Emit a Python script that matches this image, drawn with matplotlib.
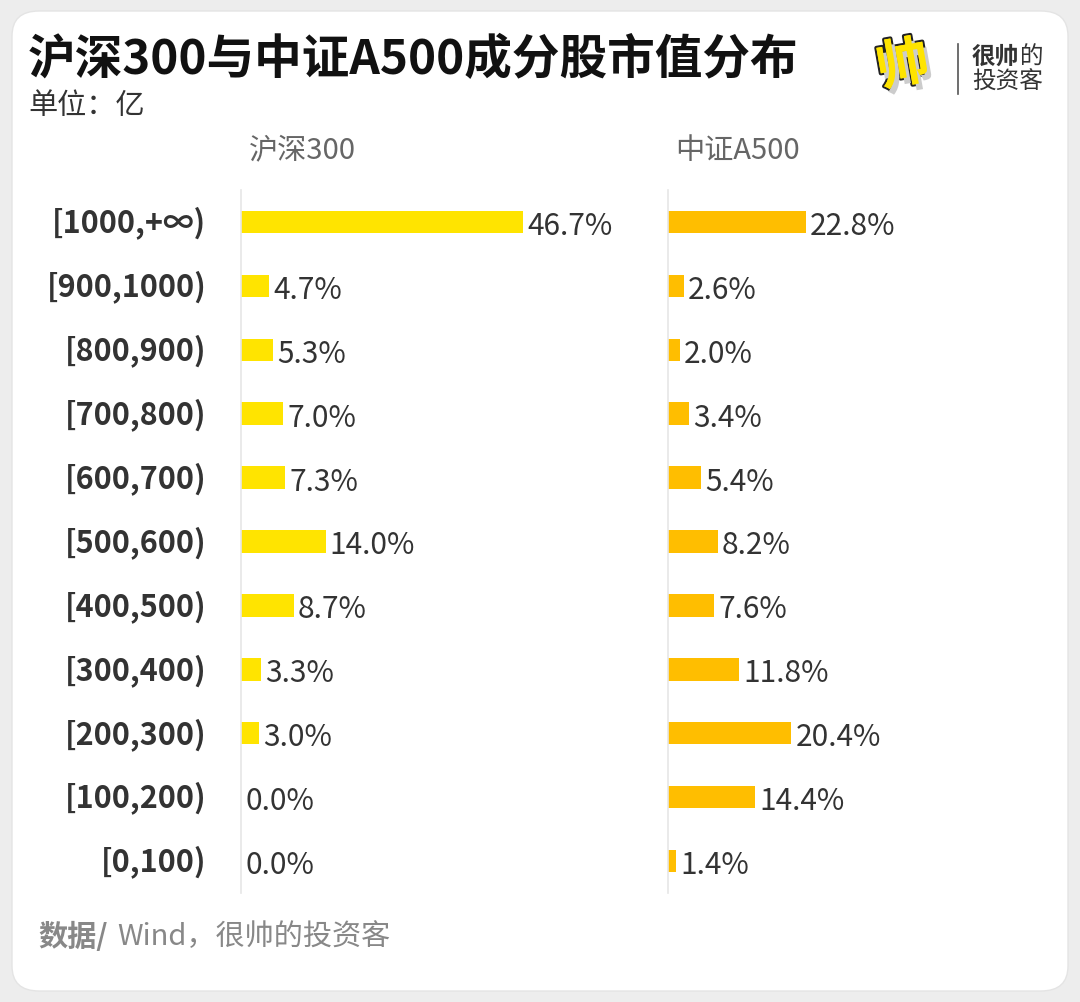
import matplotlib
matplotlib.use("Agg")
import matplotlib.pyplot as plt
from matplotlib.patches import FancyBboxPatch
import matplotlib.patheffects as pe

plt.rcParams['font.family'] = ['Noto Sans CJK SC', 'DejaVu Sans']

categories = ["[1000,+∞)", "[900,1000)", "[800,900)", "[700,800)", "[600,700)",
              "[500,600)", "[400,500)", "[300,400)", "[200,300)", "[100,200)", "[0,100)"]
hs300 = [46.7, 4.7, 5.3, 7.0, 7.3, 14.0, 8.7, 3.3, 3.0, 0.0, 0.0]
a500 = [22.8, 2.6, 2.0, 3.4, 5.4, 8.2, 7.6, 11.8, 20.4, 14.4, 1.4]
series_names = ["沪深300", "中证A500"]
colors = ["#FFE400", "#FFBE00"]

W, H = 1080, 1003
fig = plt.figure(figsize=(W / 100, H / 100), dpi=100)
fig.patch.set_facecolor("#ededed")

# card
card = FancyBboxPatch((12 / W, 11 / H), (1056) / W, (980) / H,
                      boxstyle="round,pad=0,rounding_size=0.025",
                      transform=fig.transFigure, facecolor="white",
                      edgecolor="#e4e4e4", linewidth=1.0, zorder=-5)
fig.patches.append(card)

def fx(px):
    return px / W

def fy(py):
    return 1 - py / H

# title and subtitle
fig.text(fx(28), fy(60), "沪深300与中证A500成分股市值分布", fontsize=34.3, fontweight="bold",
         color="#111111", va="center", ha="left")
fig.text(fx(28), fy(106), "单位：亿", fontsize=21, color="#333333", va="center", ha="left")

# logo
fig.text(fx(903), fy(67), "帅", fontsize=38, fontweight="bold", color="#FFE400",
         va="center", ha="center", rotation=10,
         path_effects=[pe.withStroke(linewidth=3, foreground="#222222"),
                       pe.SimplePatchShadow(offset=(3, -4), shadow_rgbFace="#cccccc", alpha=1.0),
                       pe.Normal()])
fig.add_artist(plt.Line2D([fx(958), fx(958)], [fy(45), fy(95)], color="#555555", lw=1.2))
fig.text(fx(972), fy(57), "很帅", fontsize=17, fontweight="bold", color="#333333",
         va="center", ha="left")
fig.text(fx(1020), fy(57), "的", fontsize=17, color="#333333", va="center", ha="left")
fig.text(fx(972), fy(82), "投资客", fontsize=17, color="#333333", va="center", ha="left")

# footer
fig.text(fx(38), fy(937), "数据/", fontsize=21, fontweight="bold", color="#888888",
         va="center", ha="left")
fig.text(fx(117), fy(937), "Wind，很帅的投资客", fontsize=21, color="#888888",
         va="center", ha="left")

scale = 6.04  # px per percent
ax_top, ax_bot = 191, 894
ax_w_px = 380
lefts = [241, 668]
data = [hs300, a500]

for i in range(2):
    ax = fig.add_axes([fx(lefts[i]), fy(ax_bot), ax_w_px / W, (ax_bot - ax_top) / H])
    ax.set_zorder(5)
    ax.set_facecolor("none")
    y = list(range(len(categories)))
    vals = data[i]
    ax.barh(y, vals, height=0.35, color=colors[i], zorder=2)
    ax.set_xlim(0, ax_w_px / scale)
    ax.set_ylim(len(categories) - 0.5, -0.5)
    for s in ["top", "right", "bottom"]:
        ax.spines[s].set_visible(False)
    ax.spines["left"].set_color("#e6e6e6")
    ax.spines["left"].set_linewidth(1.2)
    ax.set_xticks([])
    ax.tick_params(axis="y", length=0)
    if i == 0:
        ax.set_yticks(y)
        ax.set_yticklabels(categories, fontsize=22, fontweight="bold", color="#333333",
                           va="center")
        ax.tick_params(axis="y", pad=25)
    else:
        ax.set_yticks([])
    for yy, v in zip(y, vals):
        ax.annotate(f"{v:.1f}%", xy=(v, yy), xytext=(3, -2.5), textcoords="offset points",
                    va="center", ha="left", fontsize=21.5, color="#333333",
                    fontweight="light")
    ax.text(0.02, 1.0 + 40 / (ax_bot - ax_top), series_names[i], transform=ax.transAxes,
            fontsize=21, color="#666666", va="center", ha="left", fontweight="light")

fig.savefig("out.png", dpi=100, facecolor=fig.get_facecolor())
